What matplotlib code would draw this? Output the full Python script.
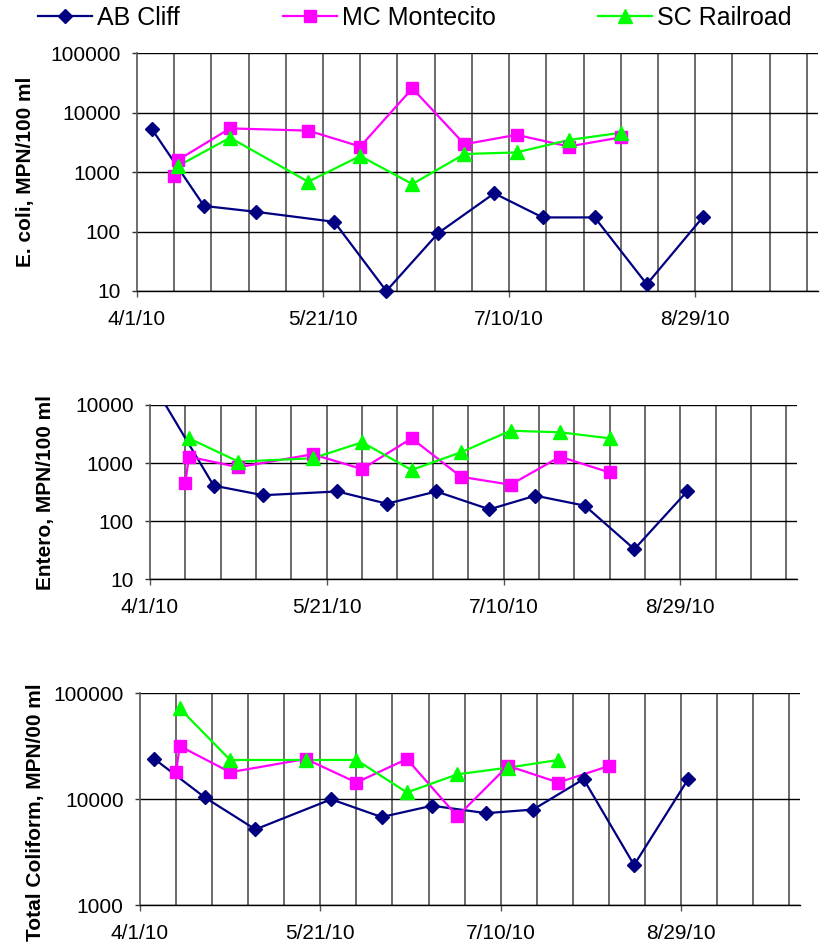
import datetime as dt
import matplotlib
matplotlib.use("Agg")
import matplotlib.pyplot as plt
from matplotlib.lines import Line2D

plt.rcParams['font.family'] = ['Liberation Sans', 'DejaVu Sans']


def day(s):
    m, d = s.split("/")
    return dt.date(2010, int(m), int(d))


# sampling dates (2010)
ab_dates = ["4/5", "4/19", "5/3", "5/24", "6/7", "6/21", "7/6", "7/19", "8/2", "8/16", "8/31"]
mc_dates = ["4/11", "4/12", "4/26", "5/17", "5/31", "6/14", "6/28", "7/12", "7/26", "8/9"]
sc_dates = ["4/12", "4/26", "5/17", "5/31", "6/14", "6/28", "7/12", "7/26", "8/9"]

# E. coli, MPN/100 ml
ecoli_ab = [5300, 270, 215, 146, 10, 95, 440, 173, 173, 13, 173]
ecoli_mc = [860, 1600, 5450, 5000, 2700, 25700, 2950, 4250, 2700, 3850]
ecoli_sc = [1270, 3800, 690, 1870, 630, 2020, 2150, 3470, 4600]

# Enterococcus, MPN/100 ml
entero_ab = [11000, 410, 280, 325, 200, 325, 160, 275, 185, 33, 330]
entero_mc = [460, 1290, 850, 1420, 790, 2670, 580, 425, 1290, 690]
entero_sc = [2670, 1060, 1210, 2280, 760, 1540, 3610, 3390, 2670]

# Total coliform, MPN/100 ml
tc_ab = [24000, 10400, 5200, 10000, 6800, 8700, 7400, 8000, 15500, 2400, 15500]
tc_mc = [18000, 31800, 18000, 24000, 14400, 24000, 6900, 20700, 14400, 20600]
tc_sc = [72000, 23500, 23500, 23500, 11600, 17200, 19900, 23500]

series_names = ["AB Cliff", "MC Montecito", "SC Railroad"]
x_tick_labels = ["4/1/10", "5/21/10", "7/10/10", "8/29/10"]

colors = ["#000080", "#FF00FF", "#00FF00"]
markers = ["D", "s", "^"]
msizes = [7.6, 8.2, 10]

W, H = 821, 949
fig = plt.figure(figsize=(W / 100, H / 100), dpi=100)


def rect(left, right, top, bottom):
    return [left / W, 1 - bottom / H, (right - left) / W, (bottom - top) / H]


panels = [
    dict(rect=rect(137, 818, 53.3, 291), ylim=(10, 100000),
         yticks=[10, 100, 1000, 10000, 100000],
         label="E. coli, MPN/100 ml", lpos=(26, 172),
         data=[(ab_dates, ecoli_ab), (mc_dates, ecoli_mc), (sc_dates, ecoli_sc)]),
    dict(rect=rect(150, 797, 405, 579.3), ylim=(10, 10000),
         yticks=[10, 100, 1000, 10000],
         label="Entero, MPN/100 ml", lpos=(45, 492),
         data=[(ab_dates, entero_ab), (mc_dates, entero_mc), (sc_dates, entero_sc)]),
    dict(rect=rect(140, 800, 693.3, 905.3), ylim=(1000, 100000),
         yticks=[1000, 10000, 100000],
         label="Total Coliform, MPN/00 ml", lpos=(35, 812),
         data=[(ab_dates, tc_ab), (mc_dates, tc_mc), (sc_dates[:len(tc_sc)], tc_sc)]),
]

start = dt.date(2010, 4, 1)
end = dt.date(2010, 10, 1)
major_dates = [start + dt.timedelta(days=50 * k) for k in range(4)]
grid_dates = [start + dt.timedelta(days=10 * k) for k in range(1, 19)]

for p in panels:
    ax = fig.add_axes(p["rect"])
    ax.set_yscale("log")
    ax.set_xlim(start, end)
    ax.set_ylim(*p["ylim"])
    ax.set_axisbelow(True)

    # horizontal gridlines at each decade
    for yv in p["yticks"]:
        ax.axhline(yv, color="black", lw=1.0, zorder=0.5)
    # vertical gridlines every 10 days
    for gd in grid_dates:
        ax.axvline(gd, color="#5f5f5f", lw=1.3, zorder=0.4)

    lo, hi = p["ylim"]
    for (dates, vals), c, m, ms in zip(p["data"], colors, markers, msizes):
        xs = [day(s) for s in dates]
        ax.plot(xs, vals, color=c, lw=1.6, zorder=2)
        keep = [i for i, v in enumerate(vals) if lo <= v <= hi]
        ax.plot([xs[i] for i in keep], [vals[i] for i in keep], ls="none",
                marker=m, ms=ms, color=c, mec=c, zorder=3, clip_on=False)

    ax.set_yticks(p["yticks"])
    ax.set_yticklabels([str(v) for v in p["yticks"]])
    ax.yaxis.set_minor_locator(matplotlib.ticker.NullLocator())
    ax.set_xticks(major_dates)
    ax.set_xticklabels(x_tick_labels)
    ax.xaxis.set_minor_locator(matplotlib.ticker.NullLocator())
    ax.tick_params(axis="y", length=3.8, width=1.0, pad=8, labelsize=15, color="#333333")
    ax.tick_params(axis="x", length=4.5, width=1.0, pad=9, labelsize=15, color="#555555")

    for s in ("top", "right"):
        ax.spines[s].set_visible(False)
    ax.spines["left"].set_color("#555555")
    ax.spines["left"].set_linewidth(1.2)
    ax.spines["bottom"].set_color("black")
    ax.spines["bottom"].set_linewidth(1.0)

    fig.text(p["lpos"][0] / W, 1 - p["lpos"][1] / H, p["label"], rotation=90,
             ha="center", va="center", fontsize=15, fontweight="bold")

# legend across the top
legend_x = [38, 283, 598]
for name, c, m, ms, lx in zip(series_names, colors, markers, msizes, legend_x):
    h = Line2D([], [], color=c, lw=1.6, marker=m, ms=ms, mec=c)
    fig.legend([h], [name], loc="center left", bbox_to_anchor=(lx / W, 1 - 18 / H),
               frameon=False, fontsize=18, borderpad=0, borderaxespad=0,
               handlelength=2.15, handletextpad=0.2)

fig.savefig("out.png", dpi=100)
